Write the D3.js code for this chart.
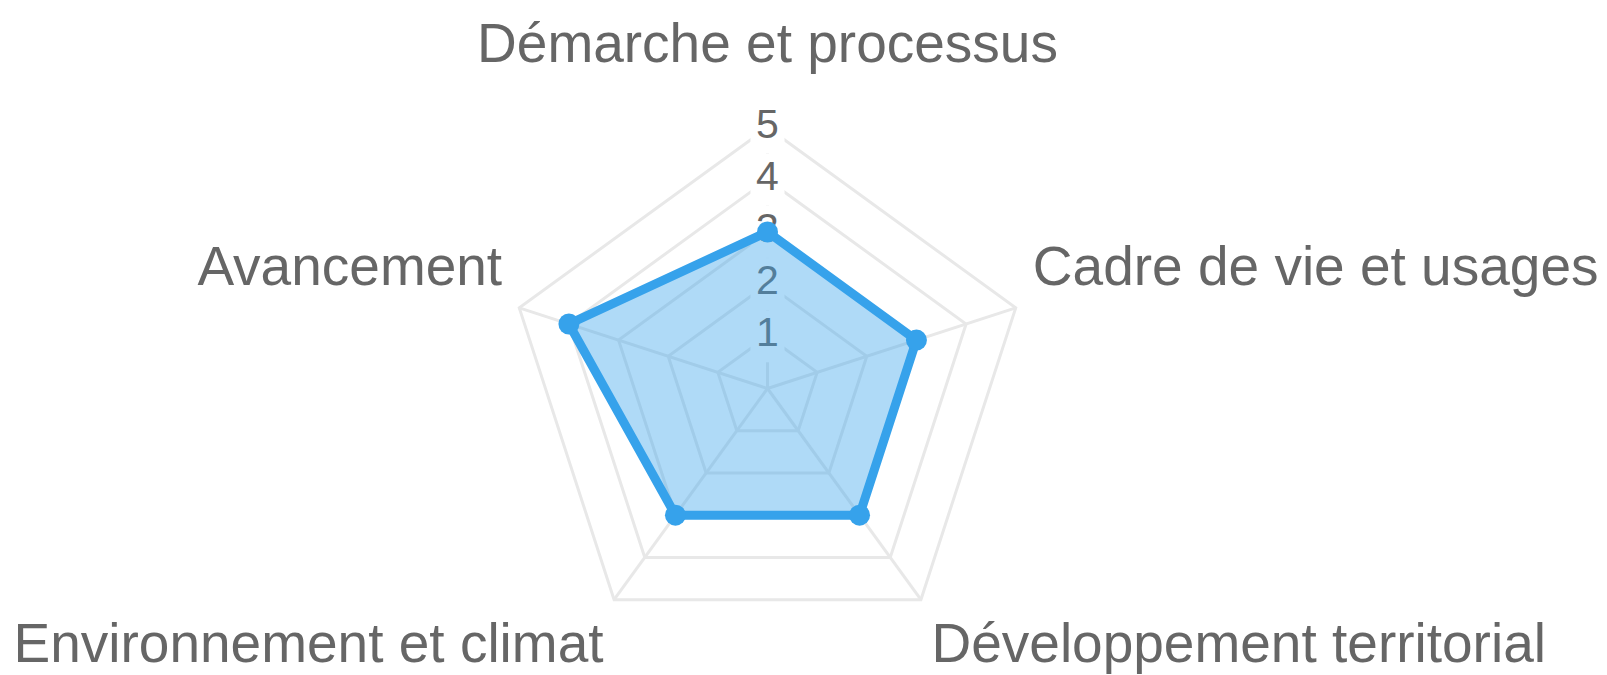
<!DOCTYPE html>
<html>
<head>
<meta charset="utf-8">
<script src="https://cdn.jsdelivr.net/npm/d3@7"></script>
<style>
    html, body { margin: 0; padding: 0; background: #fff; }
    svg { display: block; font-family: "Liberation Sans", Arial, Helvetica, sans-serif; }
</style>
</head>
<body>
<div id="chart"></div>
<script>
// chart values
const categories = ["Démarche et processus", "Cadre de vie et usages", "Développement territorial", "Environnement et climat", "Avancement"];
const values = [3, 3, 3, 3, 4];
const tickValues = [1, 2, 3, 4, 5];

const width = 1607;
const height = 675;
const cx = 767.5;
const cy = 388.5;
const radius = 261;

const svg = d3.select("#chart").append("svg")
    .attr("width", width)
    .attr("height", height);

const g = svg.append("g")
    .attr("transform", `translate(${cx},${cy})`);

const r = d3.scaleLinear().domain([0, 5]).range([0, radius]);
// angle of each category, starting at the top and going clockwise
const angle = d3.scaleLinear().domain([0, categories.length]).range([-Math.PI / 2, 1.5 * Math.PI]);

const point = (i, v) => [Math.cos(angle(i)) * r(v), Math.sin(angle(i)) * r(v)];

const gridColor = "#e8e8e8";

// Grid polygons
g.selectAll(".grid")
    .data(tickValues)
    .enter().append("polygon")
    .attr("class", "grid")
    .attr("points", t => categories.map((c, i) => point(i, t).join(",")).join(" "))
    .attr("fill", "none")
    .attr("stroke", gridColor)
    .attr("stroke-width", 3);

// Spokes
g.selectAll(".spoke")
    .data(categories)
    .enter().append("line")
    .attr("class", "spoke")
    .attr("x1", 0).attr("y1", 0)
    .attr("x2", (c, i) => point(i, 5)[0])
    .attr("y2", (c, i) => point(i, 5)[1])
    .attr("stroke", gridColor)
    .attr("stroke-width", 3);

// Tick labels with white backdrop
const tickSize = 41;
const ticks = g.selectAll(".tick")
    .data(tickValues)
    .enter().append("g")
    .attr("class", "tick")
    .attr("transform", t => `translate(0,${-r(t)})`);

ticks.append("rect")
    .attr("x", -17)
    .attr("y", -26)
    .attr("width", 34)
    .attr("height", 52)
    .attr("fill", "#fff");

ticks.append("text")
    .attr("y", -4)
    .attr("text-anchor", "middle")
    .attr("dominant-baseline", "central")
    .attr("font-size", tickSize)
    .attr("fill", "#666")
    .text(t => t);

// Dataset area
const line = d3.lineRadial()
    .angle((d, i) => angle(i) + Math.PI / 2)
    .radius(d => r(d))
    .curve(d3.curveLinearClosed);

g.append("path")
    .datum(values)
    .attr("d", line)
    .attr("fill", "rgba(54,162,235,0.4)")
    .attr("stroke", "#36a2eb")
    .attr("stroke-width", 9)
    .attr("stroke-linejoin", "miter");

g.selectAll(".pt")
    .data(values)
    .enter().append("circle")
    .attr("class", "pt")
    .attr("cx", (d, i) => point(i, d)[0])
    .attr("cy", (d, i) => point(i, d)[1])
    .attr("r", 10.5)
    .attr("fill", "#36a2eb");

// Category labels
g.selectAll(".cat")
    .data(categories)
    .enter().append("text")
    .attr("class", "cat")
    .attr("x", (c, i) => point(i, 5)[0] + Math.cos(angle(i)) * 18)
    .attr("y", (c, i) => {
        const s = Math.sin(angle(i));
        const y = point(i, 5)[1] + s * 18;
        if (s < -0.9) return y - 48;
        if (s < 0) return y - 17;
        return y + 48;
    })
    .attr("text-anchor", (c, i) => {
        const co = Math.cos(angle(i));
        return co > 0.01 ? "start" : (co < -0.01 ? "end" : "middle");
    })
    .attr("font-size", 55)
    .attr("fill", "#666")
    .text(c => c);
</script>
</body>
</html>
